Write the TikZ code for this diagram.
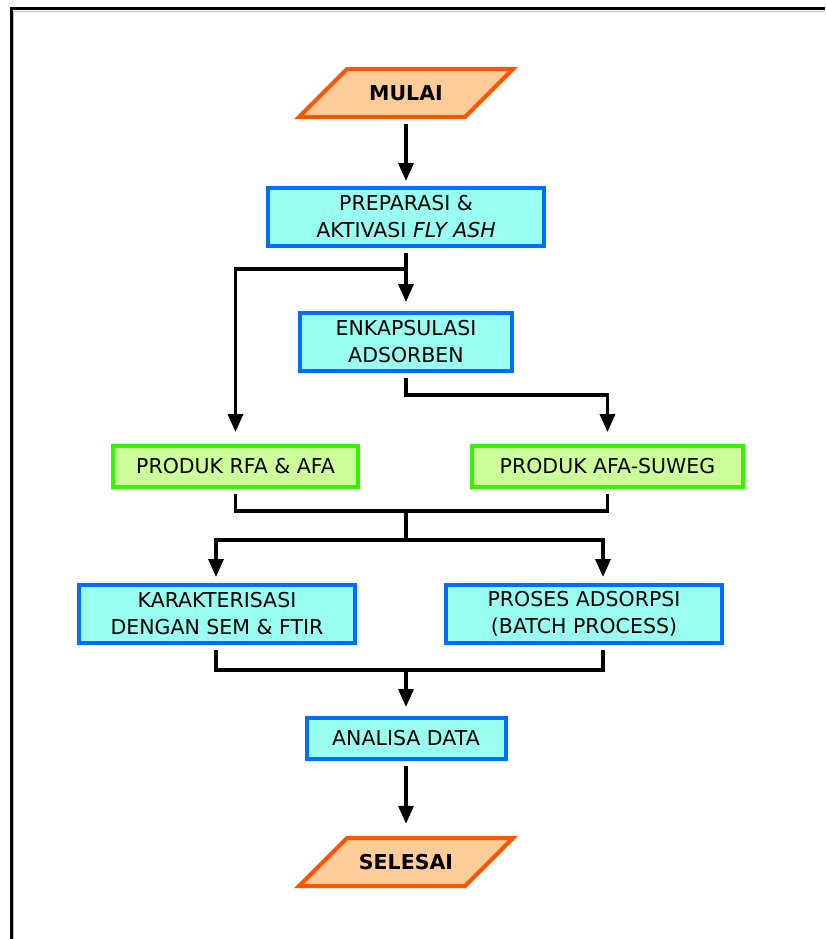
\documentclass[tikz,border=0pt]{standalone}
\usepackage{fontspec}
\setmainfont{DejaVu Sans}
\usetikzlibrary{arrows.meta}
\definecolor{boxblue}{RGB}{0,110,255}
\definecolor{boxcyan}{RGB}{153,255,240}
\definecolor{boxgreen}{RGB}{51,245,0}
\definecolor{boxlime}{RGB}{204,255,153}
\definecolor{termred}{RGB}{255,85,0}
\definecolor{termpeach}{RGB}{255,204,153}
\tikzset{
proc/.style={draw=boxblue, fill=boxcyan, line width=4pt, inner sep=0pt,
  minimum width=276pt, minimum height=58pt, align=center,
  font=\fontsize{20.5}{27}\selectfont}, % process boxes
prod/.style={proc, draw=boxgreen, fill=boxlime, minimum height=41pt}, % product boxes
termshape/.style={draw=termred, fill=termpeach, line width=4pt, line join=miter}, % slanted outline
term/.style={minimum width=170pt, minimum height=52pt, inner sep=0pt,
  font=\fontsize{20.5}{27}\selectfont\bfseries}, % start and end text
arr/.style={-{Triangle[length=18pt,width=15pt]}, line width=3.5pt,
  shorten >=9pt, shorten <=5pt}, % arrows
link/.style={line width=3.5pt, shorten >=5pt, shorten <=5pt}, % plain joins
}
\begin{document}
\begin{tikzpicture}[x=1pt, y=-1pt]
\useasboundingbox[fill=white] (0,0) rectangle (825,939);
\draw[line width=3pt] (11,939) -- (11,9) -- (825,9);
\draw[gray!50, line width=1pt] (13.5,939) -- (13.5,11.5) -- (825,11.5);

% start and end shapes
\foreach \y in {93,862}
  \draw[termshape, shift={(406,\y)}] (-107,24) -- (-59,-24) -- (107,-24) -- (59,24) -- cycle;

\node[term] (mulai) at (406,93) {MULAI};
\node[proc] (prep) at (406,217) {PREPARASI \&\\AKTIVASI \textit{FLY ASH}};
\node[proc, minimum width=212pt] (enkap) at (406,342) {ENKAPSULASI\\ADSORBEN};
\node[prod, minimum width=245pt] (rfa) at (235.5,466.5) {PRODUK RFA \& AFA};
\node[prod, minimum width=271pt] (afa) at (607.5,466.5) {PRODUK AFA-SUWEG};
\node[proc] (kar) at (217,614) {KARAKTERISASI\\DENGAN SEM \& FTIR};
\node[proc] (pros) at (584,614) {PROSES ADSORPSI\\(BATCH PROCESS)};
\node[proc, minimum width=199pt, minimum height=41pt] (anal) at (406,738.5) {ANALISA DATA};
\node[term] (selesai) at (406,862) {SELESAI};

\coordinate (j1) at (406,269);
\coordinate (j2) at (406,511);
\coordinate (j3) at (406,540);
\coordinate (j4) at (406,670);

\draw[arr, shorten >=5pt] (mulai) -- (prep);
\draw[arr] (prep) -- (enkap);
\draw[arr, shorten <=0pt, shorten >=12pt] (j1) -| (rfa.north);
\draw[arr, shorten >=12pt] (enkap.south) -- ++(0,22) -| (afa.north);
\draw[link] (rfa.south) -- ++(0,22) -| (afa.south);
\draw[line width=3.5pt] (j2) -- (j3);
\draw[arr, shorten <=0pt, shorten >=6pt] (j3) -| ([xshift=-1pt]kar.north);
\draw[arr, shorten <=0pt, shorten >=6pt] (j3) -| ([xshift=19pt]pros.north);
\draw[link] ([xshift=-1pt]kar.south) -- ++(0,25) -| ([xshift=19pt]pros.south);
\draw[arr, shorten <=0pt] (j4) -- (anal.north);
\draw[arr, shorten >=12pt] (anal) -- (selesai);
\end{tikzpicture}
\end{document}
